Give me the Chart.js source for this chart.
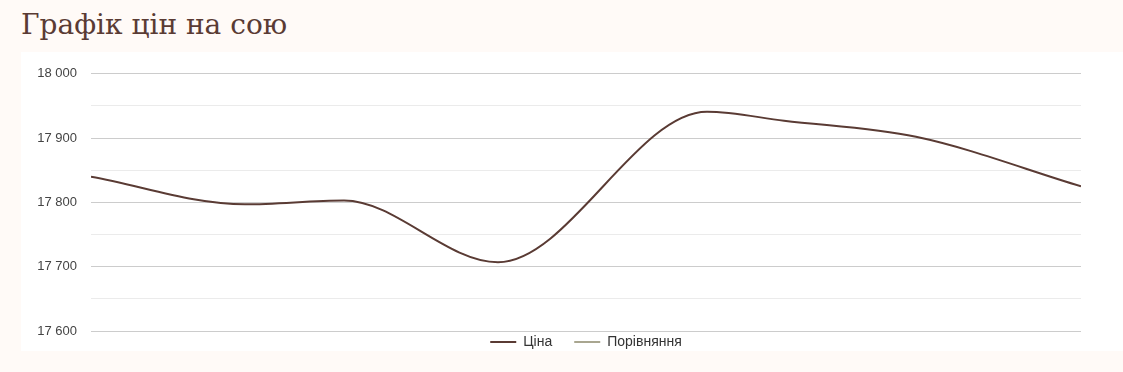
<!DOCTYPE html>
<html>
<head>
<meta charset="utf-8">
<script src="https://cdn.jsdelivr.net/npm/chart.js@4"></script>
<style>
  html, body { margin: 0; padding: 0; background: #fffaf7; width: 1123px; height: 372px; overflow: hidden; }
  h1 { position: absolute; left: 21px; top: 7px; margin: 0; font-family: "DejaVu Serif", serif; font-weight: normal; font-size: 28px; color: #5a3b34; line-height: 36px; }
  #box { position: absolute; left: 21px; top: 52px; width: 1102px; height: 299px; background: #ffffff; }
  #wrap { position: absolute; left: 21px; top: 52px; width: 1102px; height: 307px; }
</style>
</head>
<body>
<h1>Графік цін на сою</h1>
<div id="box"></div>
<div id="wrap"><canvas id="c"></canvas></div>
<script>
// Data (x = relative date position, y = price)
const seriesNames = ["Ціна", "Порівняння"];
const priceX = [0, 14, 23, 37, 56, 63, 75, 90];
const priceY = [17840, 17797, 17803, 17707, 17941, 17927, 17902, 17825];
const comparisonY = [];
const yMin = 17600;
const yMax = 18000;
const yStep = 50;
const yLabelStep = 100;

const fmt = v => String(v).replace(/\B(?=(\d{3})+(?!\d))/g, ' ');

const FIT_PAD = 4;
const DRAW_PAD = 22;

const legendAdjust = {
  id: 'legendAdjust',
  afterLayout(chart) {
    const lg = chart.legend;
    const ca = chart.chartArea;
    const ctx = chart.ctx;
    const lo = lg.options.labels;
    const fontSize = lo.font.size;
    ctx.save();
    ctx.font = lo.font.size + 'px ' + lo.font.family;
    let total = 0;
    lg.legendItems.forEach((it, i) => {
      total += lo.pointStyleWidth + fontSize / 2 + ctx.measureText(it.text).width;
      if (i > 0) total += DRAW_PAD;
    });
    ctx.restore();
    const center = (ca.left + ca.right) / 2;
    const start = center - total / 2;
    const LW = lg.lineWidths[0];
    const sum = 2 * start - DRAW_PAD + LW;
    const w = lg.right - lg.left;
    lg.left = sum / 2 - w / 2;
    lg.right = sum / 2 + w / 2;
    lo.padding = DRAW_PAD;
    lg.top -= (DRAW_PAD - FIT_PAD);
  }
};

new Chart(document.getElementById('c'), {
  type: 'line',
  data: {
    datasets: [
      {
        label: seriesNames[0],
        data: priceX.map((x, i) => ({ x: x, y: priceY[i] })),
        borderColor: '#5a3b34',
        backgroundColor: '#5a3b34',
        borderWidth: 2,
        pointRadius: 0,
        pointHoverRadius: 0,
        pointStyle: 'line',
        cubicInterpolationMode: 'monotone',
        fill: false
      },
      {
        label: seriesNames[1],
        data: comparisonY,
        borderColor: '#a9a690',
        backgroundColor: '#a9a690',
        borderWidth: 2,
        pointRadius: 0,
        pointStyle: 'line',
        fill: false
      }
    ]
  },
  options: {
    responsive: true,
    maintainAspectRatio: false,
    animation: false,
    layout: { padding: { left: 0, right: 42, top: 20, bottom: 0 } },
    plugins: {
      legend: {
        position: 'bottom',
        labels: {
          usePointStyle: true,
          pointStyleWidth: 26,
          boxHeight: 14,
          color: '#333333',
          font: { family: '"Liberation Sans", Arial, sans-serif', size: 14 },
          padding: FIT_PAD
        }
      },
      tooltip: { enabled: false },
      title: { display: false }
    },
    scales: {
      x: {
        type: 'linear',
        display: false,
        min: priceX[0],
        max: priceX[priceX.length - 1]
      },
      y: {
        min: yMin,
        max: yMax,
        border: { display: false },
        afterFit(scale) { scale.width = 70; },
        grid: {
          drawTicks: false,
          color: ctx => (ctx.tick && ctx.tick.value % yLabelStep === 0) ? '#cccccc' : '#ebebeb',
          lineWidth: 1
        },
        ticks: {
          stepSize: yStep,
          padding: 14,
          color: '#444444',
          font: { family: '"Liberation Sans", Arial, sans-serif', size: 13 },
          callback: v => (v % yLabelStep === 0 ? fmt(v) : '')
        }
      }
    }
  },
  plugins: [legendAdjust]
});
</script>
</body>
</html>
